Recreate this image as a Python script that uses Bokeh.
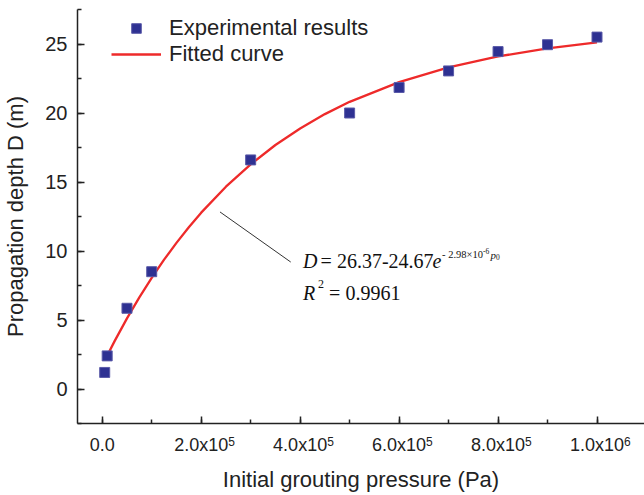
from bokeh.plotting import figure
from bokeh.models import Range1d, SingleIntervalTicker, Legend, LegendItem, LinearAxis
from bokeh.core.properties import value
from bokeh.embed import file_html
from bokeh.resources import INLINE

# ---- data ----
pressure_pa = [5e3, 1e4, 5e4, 1e5, 3e5, 5e5, 6e5, 7e5, 8e5, 9e5, 1e6]
depth_m = [1.2, 2.4, 5.85, 8.5, 16.6, 20.0, 21.85, 23.05, 24.45, 24.95, 25.5]

fit_pressure_pa = [5e3, 2.5e4, 5e4, 7.5e4, 1e5, 1.25e5, 1.5e5, 1.75e5, 2e5, 2.5e5,
                   3e5, 3.5e5, 4e5, 4.5e5, 5e5, 6e5, 7e5, 8e5, 9e5, 1e6]
fit_depth_m = [2.07, 3.47, 5.12, 6.64, 8.06, 9.37, 10.59, 11.72, 12.78, 14.66,
               16.28, 17.68, 18.88, 19.92, 20.81, 22.24, 23.31, 24.10, 24.68, 25.12]

x_tick_values = [0, 200000, 400000, 600000, 800000, 1000000]
x_tick_mantissas = ["0.0", "2.0x10", "4.0x10", "6.0x10", "8.0x10", "1.0x10"]
x_tick_exponents = ["", "5", "5", "5", "5", "6"]

legend_labels = ["Experimental results", "Fitted curve"]
x_title = "Initial grouting pressure (Pa)"
y_title = "Propagation depth D (m)"

# ---- styling ----
SANS = "Liberation Sans"
SERIF = "Liberation Serif"
POINT_FILL = "#2e3192"
POINT_LINE = "#5a5aa8"
CURVE = "#ee2a2a"
AXIS = "#222222"

X_START, X_END = -5e4, 1.096e6
FRAME_W = 568
SUP_SHIFT_PX = 30.4  # exponent sits right of the "x10" mantissa
sup_shift = SUP_SHIFT_PX * (X_END - X_START) / FRAME_W

p = figure(width=644, height=495, output_backend="svg", toolbar_location=None,
           x_range=Range1d(X_START, X_END), y_range=Range1d(-2.5, 27.5),
           min_border_left=76, min_border_right=0, min_border_top=9, min_border_bottom=72)
p.extra_x_ranges = {"sup": Range1d(X_START - sup_shift, X_END - sup_shift)}
p.outline_line_color = None
p.xgrid.visible = False
p.ygrid.visible = False
p.background_fill_color = "white"
p.border_fill_color = "white"

curve = p.line(fit_pressure_pa, fit_depth_m, line_color=CURVE, line_width=2.3)
pts = p.scatter(pressure_pa, depth_m, marker="square", size=10,
                fill_color=POINT_FILL, line_color=POINT_LINE, line_width=1)

# axes
p.xaxis.ticker = SingleIntervalTicker(interval=200000, num_minor_ticks=2)
p.yaxis.ticker = SingleIntervalTicker(interval=5, num_minor_ticks=2)
p.xaxis.major_label_overrides = {v: s for v, s in zip(x_tick_values, x_tick_mantissas)}

for ax in (p.xaxis[0], p.yaxis[0]):
    ax.axis_line_color = AXIS
    ax.axis_line_width = 1.5
    ax.major_tick_line_color = AXIS
    ax.minor_tick_line_color = AXIS
    ax.major_tick_line_width = 1.5
    ax.minor_tick_line_width = 1.5
    ax.major_tick_in = 7
    ax.major_tick_out = 0
    ax.minor_tick_in = 4
    ax.minor_tick_out = 0
    ax.major_label_text_font = SANS
    ax.major_label_text_color = AXIS
    ax.axis_label_text_font = SANS
    ax.axis_label_text_font_style = "normal"
    ax.axis_label_text_font_size = "22px"
    ax.axis_label_text_color = AXIS

p.yaxis.axis_label = y_title
p.xaxis.major_label_text_font_size = "18px"
p.yaxis.major_label_text_font_size = "20px"
p.xaxis.major_label_standoff = 11
p.yaxis.major_label_standoff = 10
p.yaxis.axis_label_standoff = 14

# exponent axis (superscripts of the x tick labels) + x title
sup_axis = LinearAxis(x_range_name="sup",
                      ticker=SingleIntervalTicker(interval=200000, num_minor_ticks=0),
                      major_label_overrides={v: s for v, s in zip(x_tick_values, x_tick_exponents)},
                      axis_line_color=None, major_tick_line_color=None, minor_tick_line_color=None,
                      major_tick_in=0, major_tick_out=0, minor_tick_in=0, minor_tick_out=0,
                      major_label_standoff=-21,
                      major_label_text_font=SANS, major_label_text_font_size="12px",
                      major_label_text_color=AXIS,
                      axis_label=x_title, axis_label_text_font=SANS,
                      axis_label_text_font_style="normal", axis_label_text_font_size="22px",
                      axis_label_text_color=AXIS, axis_label_standoff=18)
p.add_layout(sup_axis, "below")

# legend
legend = Legend(items=[LegendItem(label=legend_labels[0], renderers=[pts]),
                       LegendItem(label=legend_labels[1], renderers=[curve])],
                location=(34, 356), margin=0, padding=0, spacing=0,
                glyph_width=50, glyph_height=24, label_height=24, label_standoff=8,
                label_text_font=SANS, label_text_font_size="22px", label_text_color=AXIS,
                background_fill_alpha=0, border_line_color=None)
p.add_layout(legend)

# annotation: leader line and fitted equation
p.segment(x0=2.38e5, y0=12.83, x1=3.81e5, y1=9.2, line_color="#333333", line_width=1)

eq_x, eq_y = 4.06e5, 9.3
pieces = [
    # text, x_offset, y_offset, size, style
    ("D", 0, 0, "20px", "italic"),
    ("= 26.37-24.67", 17.5, 0, "20px", "normal"),
    ("e", 129.5, 0, "20px", "italic"),
    ("- 2.98\u00d710", 139, -6, "10.5px", "normal"),
    ("-6", 180, -10, "7.5px", "normal"),
    ("p", 187.5, -6, "11px", "italic"),
    ("0", 193, -4, "7.5px", "normal"),
    ("R", 0, 32, "20px", "italic"),
    ("2", 15, 23, "12px", "normal"),
    ("= 0.9961", 26, 32, "20px", "normal"),
]
for txt, dx, dy, size, style in pieces:
    p.text(x=[eq_x], y=[eq_y], text=[txt], x_offset=dx, y_offset=dy,
           text_font=value(SERIF), text_font_size=size, text_font_style=style,
           text_color="#111111", text_align="left", text_baseline="alphabetic")

open("out.html", "w").write(file_html(p, INLINE))
